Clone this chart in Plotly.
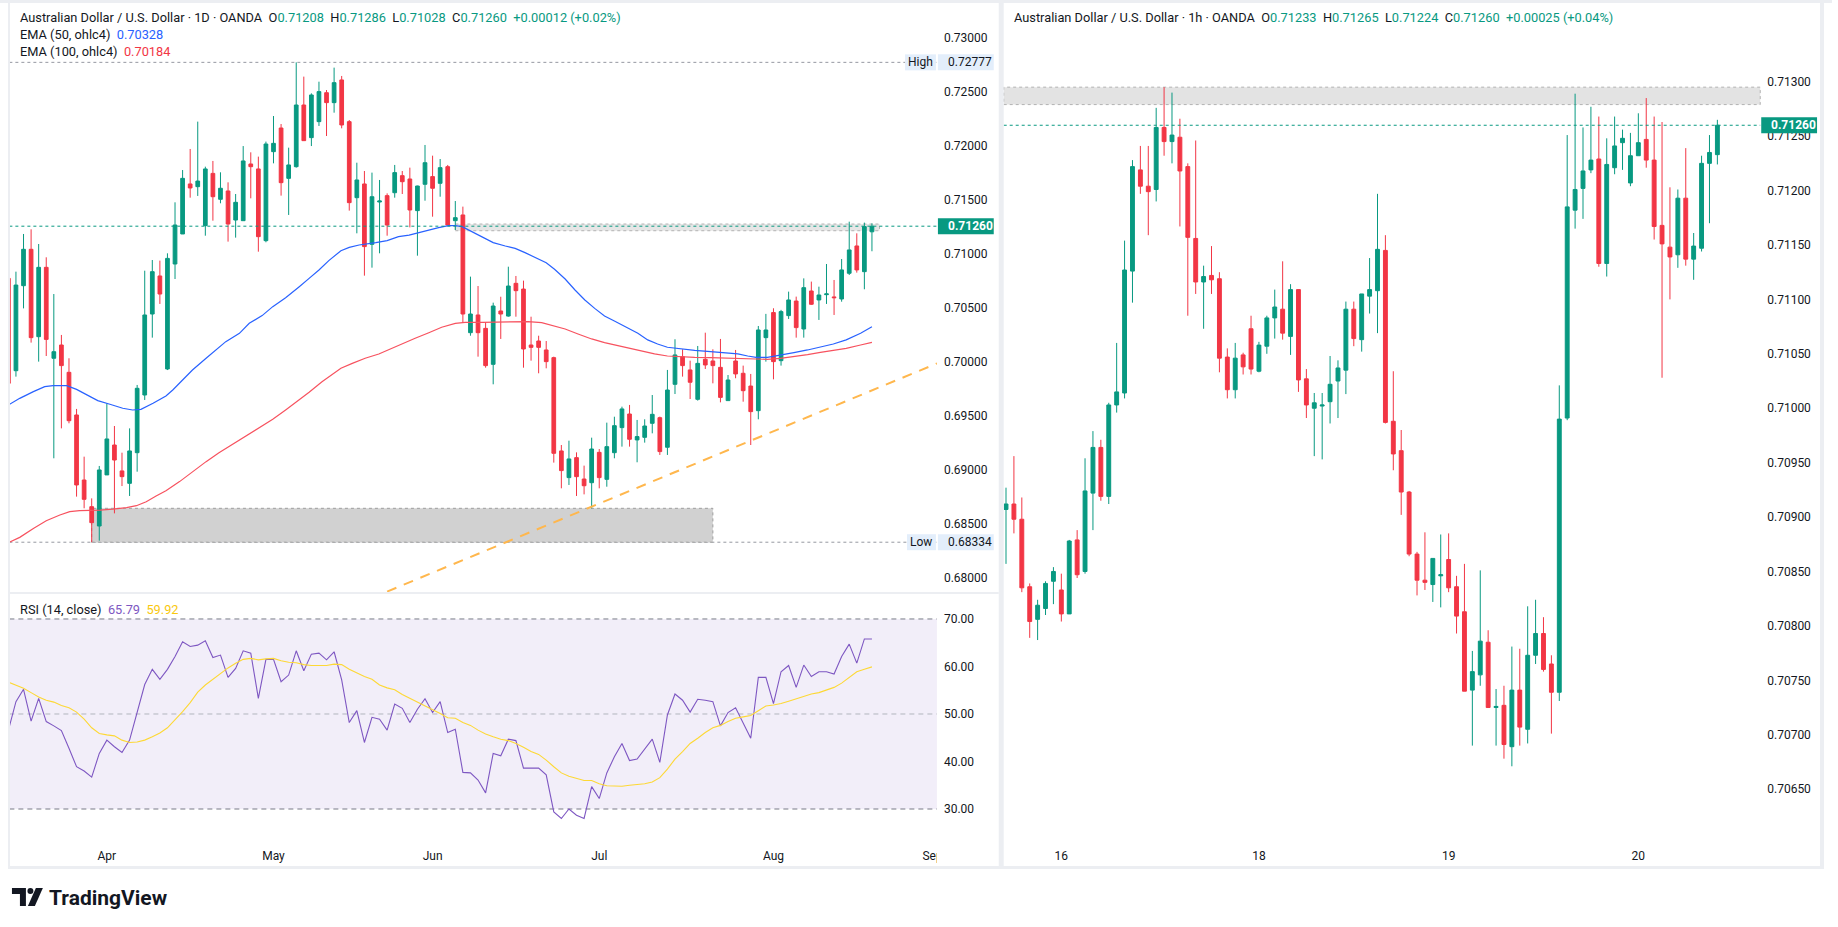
import plotly.graph_objects as go

W, H = 1838, 927
GREEN = "#089981"
RED = "#f23645"
INK = "#131722"
FONT = "Roboto"

# daily AUD/USD candles, left panel (index 0 = first, partly hidden bar)
d_open = [0.70777, 0.69922, 0.70709, 0.71046, 0.70237, 0.70879, 0.70037, 0.70160, 0.69907, 0.69512,
          0.68910, 0.68663, 0.68484, 0.68957, 0.69234, 0.68994, 0.68879, 0.69163, 0.69697, 0.70447,
          0.70799, 0.69938, 0.70910, 0.71188, 0.71651, 0.71626, 0.71265, 0.71749, 0.71509, 0.71586,
          0.71317, 0.71311, 0.71836, 0.71790, 0.71126, 0.71950, 0.72169, 0.71703, 0.71811, 0.72382,
          0.72080, 0.72228, 0.72496, 0.72404, 0.72614, 0.72228, 0.71524, 0.71651, 0.71092, 0.71484,
          0.71543, 0.71570, 0.71728, 0.71697, 0.71404, 0.71648, 0.71719, 0.71657, 0.71811, 0.71311,
          0.71364, 0.70274, 0.70438, 0.70314, 0.69981, 0.70475, 0.70428, 0.70731, 0.70678, 0.70160,
          0.70197, 0.70114, 0.70043, 0.69179, 0.68932, 0.69117, 0.68919, 0.68885, 0.69166, 0.68916,
          0.69163, 0.69395, 0.69521, 0.69281, 0.69305, 0.69435, 0.69487, 0.69213, 0.69796, 0.70052,
          0.69929, 0.69657, 0.70028, 0.70012, 0.69953, 0.69645, 0.70012, 0.69898, 0.69780, 0.69552,
          0.70228, 0.70460, 0.70015, 0.70432, 0.70567, 0.70308, 0.70660, 0.70577, 0.70626, 0.70605,
          0.70586, 0.70824, 0.71077, 0.70839, 0.71208]
d_high = [0.70790, 0.70839, 0.71188, 0.71231, 0.71095, 0.70972, 0.70632, 0.70253, 0.70037, 0.69568,
          0.69126, 0.68740, 0.69040, 0.69620, 0.69410, 0.69163, 0.69388, 0.69790, 0.70848, 0.70947,
          0.70941, 0.71009, 0.71481, 0.71780, 0.71975, 0.72228, 0.71811, 0.71864, 0.71759, 0.71666,
          0.71558, 0.72002, 0.71944, 0.71904, 0.72043, 0.72280, 0.72206, 0.71987, 0.72777, 0.72645,
          0.72490, 0.72598, 0.72521, 0.72728, 0.72651, 0.72243, 0.71848, 0.71771, 0.71756, 0.71688,
          0.71564, 0.71827, 0.71771, 0.71802, 0.71635, 0.72012, 0.71913, 0.71882, 0.71827, 0.71493,
          0.71441, 0.70793, 0.70706, 0.70370, 0.70552, 0.70607, 0.70885, 0.70799, 0.70756, 0.70422,
          0.70246, 0.70197, 0.70052, 0.69234, 0.69274, 0.69166, 0.69043, 0.69302, 0.69197, 0.69441,
          0.69496, 0.69589, 0.69605, 0.69466, 0.69472, 0.69697, 0.69497, 0.69929, 0.70213, 0.70120,
          0.70015, 0.70151, 0.70274, 0.70120, 0.70216, 0.69882, 0.70114, 0.69969, 0.69892, 0.70336,
          0.70448, 0.70500, 0.70485, 0.70654, 0.70608, 0.70777, 0.70747, 0.70700, 0.70910, 0.70762,
          0.70956, 0.71302, 0.71194, 0.71293, 0.71286]
d_low = [0.69790, 0.69867, 0.70499, 0.70182, 0.70006, 0.70058, 0.69111, 0.69388, 0.69435, 0.68756,
         0.68648, 0.68334, 0.68348, 0.68957, 0.68601, 0.68854, 0.68762, 0.68987, 0.69651, 0.70228,
         0.70540, 0.69928, 0.70771, 0.71188, 0.71524, 0.71540, 0.71172, 0.71311, 0.71472, 0.71117,
         0.71154, 0.71311, 0.71518, 0.71024, 0.71111, 0.71842, 0.71543, 0.71364, 0.71802, 0.72052,
         0.72002, 0.72188, 0.72095, 0.72311, 0.72166, 0.71404, 0.71194, 0.70802, 0.70876, 0.71009,
         0.71172, 0.71524, 0.71558, 0.71249, 0.70987, 0.71496, 0.71348, 0.71533, 0.71271, 0.71225,
         0.70370, 0.70246, 0.70052, 0.69950, 0.69796, 0.70216, 0.70422, 0.70422, 0.69950, 0.70015,
         0.69898, 0.69944, 0.69071, 0.68833, 0.68864, 0.68762, 0.68777, 0.68648, 0.68833, 0.68848,
         0.69111, 0.69219, 0.69219, 0.69074, 0.69256, 0.69342, 0.69142, 0.69142, 0.69706, 0.69867,
         0.69660, 0.69645, 0.69938, 0.69805, 0.69629, 0.69645, 0.69852, 0.69635, 0.69234, 0.69472,
         0.70006, 0.69842, 0.69969, 0.70401, 0.70228, 0.70228, 0.70531, 0.70392, 0.70540, 0.70438,
         0.70561, 0.70808, 0.70830, 0.70676, 0.71028]
d_close = [0.69805, 0.70715, 0.71046, 0.70228, 0.70879, 0.70212, 0.70098, 0.69969, 0.69459, 0.68864,
           0.68731, 0.68515, 0.69003, 0.69290, 0.69095, 0.68941, 0.69179, 0.69759, 0.70438, 0.70839,
           0.70632, 0.70962, 0.71271, 0.71703, 0.71614, 0.71678, 0.71790, 0.71533, 0.71611, 0.71280,
           0.71481, 0.71864, 0.71811, 0.71163, 0.72021, 0.72027, 0.71663, 0.71827, 0.72382, 0.72052,
           0.72475, 0.72506, 0.72404, 0.72589, 0.72197, 0.71478, 0.71688, 0.71071, 0.71533, 0.71493,
           0.71271, 0.71756, 0.71672, 0.71410, 0.71632, 0.71848, 0.71611, 0.71802, 0.71271, 0.71339,
           0.70447, 0.70447, 0.70274, 0.69969, 0.70521, 0.70447, 0.70706, 0.70663, 0.70123, 0.70138,
           0.70138, 0.70006, 0.69157, 0.68997, 0.69105, 0.68941, 0.68857, 0.69197, 0.68932, 0.69219,
           0.69413, 0.69568, 0.69287, 0.69312, 0.69410, 0.69518, 0.69173, 0.69743, 0.70068, 0.69969,
           0.69815, 0.69990, 0.69975, 0.69969, 0.69675, 0.69836, 0.69892, 0.69737, 0.69543, 0.70299,
           0.70299, 0.70006, 0.70469, 0.70577, 0.70321, 0.70691, 0.70537, 0.70623, 0.70633, 0.70598,
           0.70855, 0.71040, 0.70855, 0.71256, 0.71260]

month_pos = [13, 35, 56, 78, 101, 122]
month_txt = ["Apr", "May", "Jun", "Jul", "Aug", "Sep"]

ema50_x = [0, 1.5, 3.3, 4.8, 5.9, 7.7, 9, 10.3, 11.8, 13.4, 15.1, 16.4, 17.5, 19.1, 20.8, 21.7, 23,
           24.3, 26.1, 27.4, 28.7, 30.5, 31.8, 33.5, 34.9, 36.6, 37.5, 38.4, 39.7, 41, 42.3, 43.9, 45,
           46.3, 48.5, 50, 51.5, 52.9, 54.2, 55.5, 56.8, 58.1, 59, 59.9, 61.2, 62.5, 64, 65.6, 66.9,
           68.2, 69.5, 71, 72.1, 73.5, 74.8, 76.1, 77.4, 78.7, 80, 81.3, 83.1, 84.4, 85.7, 87, 88.4,
           90.6, 92.7, 94.9, 96.3, 97.6, 98.7, 100.2, 101.9, 103.7, 105.5, 107.2, 108.9, 110.6, 112.5, 114]
ema50_y = [0.69604, 0.69666, 0.69728, 0.69774, 0.69783, 0.69783, 0.69749, 0.69697, 0.69645, 0.69611,
           0.69574, 0.69558, 0.69564, 0.69620, 0.69688, 0.69743, 0.69836, 0.69928, 0.70037, 0.70114,
           0.70191, 0.70268, 0.70361, 0.70432, 0.70515, 0.70598, 0.70645, 0.70700, 0.70777, 0.70854,
           0.70941, 0.71033, 0.71064, 0.71086, 0.71108, 0.71126, 0.71163, 0.71178, 0.71200, 0.71225,
           0.71246, 0.71265, 0.71265, 0.71256, 0.71209, 0.71163, 0.71108, 0.71077, 0.71055, 0.71015,
           0.70972, 0.70922, 0.70861, 0.70771, 0.70669, 0.70577, 0.70499, 0.70428, 0.70382, 0.70336,
           0.70268, 0.70207, 0.70169, 0.70139, 0.70126, 0.70111, 0.70098, 0.70086, 0.70077, 0.70058,
           0.70046, 0.70046, 0.70064, 0.70089, 0.70114, 0.70139, 0.70169, 0.70207, 0.70268, 0.70328]

ema100_x = [0, 1.5, 3.3, 5, 6.8, 8.1, 9.4, 10.7, 12.1, 13.8, 15.6, 16.9, 18.2, 19.5, 20.8, 22.6, 24.3,
            26.1, 27.8, 29.6, 31.4, 33.1, 34.9, 36.6, 38.4, 39.7, 41.4, 43.9, 45.4, 47.1, 48.9, 50.6,
            52, 53.7, 55.5, 57.2, 59, 60.3, 62.5, 64.7, 66.9, 68.6, 70.4, 71.7, 73.5, 75.2, 77, 78.7,
            80.5, 83.1, 85.3, 87, 88.4, 90.6, 92.7, 94.9, 97.1, 98.7, 100.2, 101.9, 103.7, 105.5,
            107.2, 108.9, 110.6, 112.5, 114]
ema100_y = [0.68330, 0.68379, 0.68462, 0.68533, 0.68586, 0.68617, 0.68626, 0.68626, 0.68632, 0.68641,
            0.68654, 0.68672, 0.68709, 0.68762, 0.68811, 0.68895, 0.68987, 0.69080, 0.69163, 0.69243,
            0.69317, 0.69398, 0.69472, 0.69558, 0.69651, 0.69722, 0.69820, 0.69944, 0.69990, 0.70037,
            0.70077, 0.70129, 0.70175, 0.70222, 0.70274, 0.70324, 0.70360, 0.70370, 0.70370, 0.70370,
            0.70376, 0.70376, 0.70367, 0.70345, 0.70308, 0.70262, 0.70216, 0.70182, 0.70154, 0.70110,
            0.70077, 0.70058, 0.70052, 0.70046, 0.70043, 0.70037, 0.70030, 0.70027, 0.70027, 0.70037,
            0.70052, 0.70071, 0.70092, 0.70108, 0.70129, 0.70160, 0.70184]

# rising support line (orange dashes)
trend_x = [50, 122.6]
trend_y = [0.67877, 0.69990]

rsi = [46.6, 52.6, 55.2, 48.5, 53.3, 48.4, 47.5, 46.5, 42.8, 38.9,
       38.0, 36.7, 41.7, 44.5, 43.1, 41.9, 44.5, 50.6, 56.2, 59.4,
       57.3, 59.4, 62.1, 65.2, 64.2, 64.5, 65.4, 61.9, 62.4, 57.7,
       59.6, 63.3, 62.8, 53.3, 61.5, 61.5, 56.8, 58.2, 63.3, 59.1,
       62.6, 62.8, 61.4, 63.1, 57.2, 48.2, 50.7, 44.0, 49.3, 48.9,
       46.6, 52.1, 51.2, 48.2, 51.0, 53.2, 50.3, 52.6, 46.1, 46.8,
       37.7, 37.6, 36.1, 33.4, 41.7, 41.2, 44.7, 44.4, 38.6, 38.6,
       38.6, 37.2, 29.4, 28.0, 30.0, 28.7, 28.0, 34.7, 32.2, 37.6,
       41.0, 43.8, 40.2, 40.5, 42.6, 44.7, 39.8, 49.8, 54.2, 52.9,
       50.4, 53.1, 52.9, 52.6, 47.5, 50.3, 51.3, 48.0, 44.9, 57.7,
       57.7, 52.2, 58.9, 60.2, 55.6, 60.3, 57.9, 58.9, 58.9, 58.4,
       62.1, 64.7, 60.7, 65.8, 65.79]
rsi_ma = [56.7, 56.0, 55.4, 54.5, 53.6, 52.9, 52.5, 51.8, 51.3, 50.4,
          48.9, 47.1, 45.9, 45.6, 45.4, 44.5, 44.0, 44.1, 44.5, 45.2,
          46.0, 47.1, 48.7, 50.5, 52.4, 54.6, 56.1, 57.3, 58.6, 59.7,
          60.7, 61.5, 61.7, 61.4, 61.6, 61.7, 61.2, 60.9, 60.8, 60.4,
          60.2, 60.2, 60.2, 60.5, 60.4, 59.4, 58.6, 57.9, 57.3, 56.1,
          55.5, 55.1, 54.1, 53.3, 52.6, 51.8, 51.0, 50.1, 49.2, 49.1,
          48.2, 47.6, 46.6, 45.8, 45.2, 44.7, 44.4, 43.8, 43.0, 42.1,
          41.5, 40.3, 38.9, 37.6, 36.9, 36.5, 36.0, 36.0, 35.3, 34.9,
          34.8, 34.8, 35.0, 35.1, 35.3, 35.7, 36.6, 38.4, 40.5, 42.1,
          43.8, 44.9, 46.1, 47.1, 47.6, 48.4, 49.1, 49.4, 49.7, 50.7,
          51.7, 51.9, 52.2, 52.7, 53.2, 53.6, 54.2, 54.5, 55.0, 55.6,
          56.5, 57.7, 58.9, 59.4, 59.92]

# hourly AUD/USD candles, right panel
h_open = [0.70907, 0.70912, 0.70898, 0.70836, 0.70806, 0.70816, 0.70841, 0.70833, 0.70811, 0.70879,
          0.70850, 0.70922, 0.70964, 0.70919, 0.71003, 0.71014, 0.71126, 0.71219, 0.71204, 0.71201,
          0.71258, 0.71245, 0.71249, 0.71222, 0.71156, 0.71116, 0.71122, 0.71119, 0.71047, 0.71017,
          0.71049, 0.71073, 0.71034, 0.71057, 0.71083, 0.71091, 0.71066, 0.71109, 0.71027, 0.71000,
          0.71002, 0.71006, 0.71025, 0.71035, 0.71091, 0.71063, 0.71103, 0.71108, 0.71145, 0.70988,
          0.70961, 0.70923, 0.70866, 0.70842, 0.70838, 0.70846, 0.70861, 0.70836, 0.70813, 0.70741,
          0.70755, 0.70785, 0.70725, 0.70727, 0.70689, 0.70741, 0.70705, 0.70773, 0.70793, 0.70765,
          0.70739, 0.70991, 0.71182, 0.71202, 0.71219, 0.71229, 0.71133, 0.71221, 0.71244, 0.71207,
          0.71232, 0.71247, 0.71228, 0.71168, 0.71148, 0.71141, 0.71193, 0.71137, 0.71147, 0.71225,
          0.71233]
h_high = [0.70927, 0.70956, 0.70918, 0.70839, 0.70824, 0.70841, 0.70854, 0.70848, 0.70879, 0.70888,
          0.70954, 0.70979, 0.70971, 0.71005, 0.71060, 0.71154, 0.71228, 0.71241, 0.71241, 0.71276,
          0.71295, 0.71290, 0.71266, 0.71225, 0.71246, 0.71131, 0.71149, 0.71125, 0.71055, 0.71060,
          0.71051, 0.71085, 0.71061, 0.71085, 0.71109, 0.71135, 0.71114, 0.71109, 0.71036, 0.71014,
          0.71014, 0.71048, 0.71044, 0.71098, 0.71098, 0.71105, 0.71138, 0.71197, 0.71159, 0.71034,
          0.70980, 0.70924, 0.70868, 0.70886, 0.70862, 0.70884, 0.70885, 0.70846, 0.70857, 0.70777,
          0.70851, 0.70796, 0.70742, 0.70745, 0.70781, 0.70779, 0.70818, 0.70824, 0.70808, 0.70773,
          0.71021, 0.71251, 0.71289, 0.71258, 0.71277, 0.71268, 0.71248, 0.71268, 0.71256, 0.71253,
          0.71271, 0.71285, 0.71268, 0.71263, 0.71203, 0.71201, 0.71239, 0.71161, 0.71232, 0.71251,
          0.71265]
h_low = [0.70857, 0.70885, 0.70831, 0.70789, 0.70787, 0.70810, 0.70820, 0.70804, 0.70811, 0.70844,
         0.70848, 0.70888, 0.70915, 0.70912, 0.70996, 0.71009, 0.71097, 0.71197, 0.71159, 0.71190,
         0.71232, 0.71225, 0.71167, 0.71085, 0.71105, 0.71073, 0.71105, 0.71033, 0.71009, 0.71009,
         0.71031, 0.71031, 0.71033, 0.71050, 0.71064, 0.71063, 0.71049, 0.71015, 0.70991, 0.70956,
         0.70953, 0.70986, 0.70991, 0.71013, 0.71057, 0.71052, 0.71087, 0.71069, 0.70986, 0.70943,
         0.70902, 0.70864, 0.70828, 0.70833, 0.70822, 0.70817, 0.70831, 0.70793, 0.70740, 0.70690,
         0.70745, 0.70725, 0.70690, 0.70678, 0.70671, 0.70690, 0.70692, 0.70765, 0.70758, 0.70701,
         0.70731, 0.70989, 0.71165, 0.71174, 0.71216, 0.71130, 0.71121, 0.71215, 0.71219, 0.71204,
         0.71232, 0.71221, 0.71155, 0.71028, 0.71100, 0.71129, 0.71131, 0.71118, 0.71144, 0.71170,
         0.71224]
h_close = [0.70912, 0.70898, 0.70835, 0.70804, 0.70819, 0.70839, 0.70850, 0.70811, 0.70878, 0.70847,
           0.70924, 0.70964, 0.70919, 0.71003, 0.71015, 0.71127, 0.71222, 0.71204, 0.71199, 0.71258,
           0.71245, 0.71251, 0.71218, 0.71157, 0.71116, 0.71121, 0.71118, 0.71046, 0.71017, 0.71046,
           0.71038, 0.71036, 0.71058, 0.71083, 0.71093, 0.71069, 0.71109, 0.71026, 0.71003, 0.71005,
           0.71003, 0.71022, 0.71037, 0.71091, 0.71064, 0.71105, 0.71109, 0.71146, 0.70987, 0.70958,
           0.70923, 0.70866, 0.70842, 0.70840, 0.70862, 0.70847, 0.70835, 0.70809, 0.70740, 0.70758,
           0.70786, 0.70725, 0.70726, 0.70691, 0.70741, 0.70707, 0.70773, 0.70793, 0.70760, 0.70739,
           0.70990, 0.71185, 0.71201, 0.71218, 0.71228, 0.71133, 0.71224, 0.71241, 0.71248, 0.71232,
           0.71244, 0.71228, 0.71167, 0.71151, 0.71139, 0.71193, 0.71137, 0.71149, 0.71225, 0.71235,
           0.71260]

day_pos = [7, 32, 56, 80]
day_txt = ["16", "18", "19", "20"]

last_price = 0.71260
high_price, low_price = 0.72777, 0.68334


def X(p):
    return p / W


def Y(p):
    return 1 - p / H


# candle spacing in pixels, used to set the visible index range
D_FIRST, D_STEP = 8.4, 7.6
H_FIRST, H_STEP = 1009.3, 7.93
LX0, LX1 = 9.4, 940
RX0, RX1 = 1007, 1766
left_range = [(LX0 - D_FIRST) / D_STEP, (LX1 - D_FIRST) / D_STEP]
right_range = [(RX0 - H_FIRST) / H_STEP, (RX1 - H_FIRST) / H_STEP]

fig = go.Figure()

candle_style = dict(
    increasing=dict(line=dict(color=GREEN, width=1), fillcolor=GREEN),
    decreasing=dict(line=dict(color=RED, width=1), fillcolor=RED),
    whiskerwidth=0, hoverinfo="skip", showlegend=False,
)
fig.add_trace(go.Candlestick(x=list(range(len(d_open))), open=d_open, high=d_high,
                             low=d_low, close=d_close, xaxis="x", yaxis="y", **candle_style))
fig.add_trace(go.Scatter(x=ema50_x, y=ema50_y, mode="lines", line=dict(color="#2962ff", width=1.2),
                         xaxis="x", yaxis="y", hoverinfo="skip", showlegend=False))
fig.add_trace(go.Scatter(x=ema100_x, y=ema100_y, mode="lines", line=dict(color="#f7525f", width=1.2),
                         xaxis="x", yaxis="y", hoverinfo="skip", showlegend=False))
fig.add_trace(go.Scatter(x=trend_x, y=trend_y, mode="lines",
                         line=dict(color="#ffb74d", width=2, dash="10px,8px"),
                         xaxis="x", yaxis="y", hoverinfo="skip", showlegend=False))

fig.add_trace(go.Scatter(x=list(range(len(rsi))), y=rsi, mode="lines",
                         line=dict(color="#7e57c2", width=1.1),
                         xaxis="x2", yaxis="y2", hoverinfo="skip", showlegend=False))
fig.add_trace(go.Scatter(x=list(range(len(rsi_ma))), y=rsi_ma, mode="lines",
                         line=dict(color="#fdd835", width=1.1),
                         xaxis="x2", yaxis="y2", hoverinfo="skip", showlegend=False))

fig.add_trace(go.Candlestick(x=list(range(len(h_open))), open=h_open, high=h_high,
                             low=h_low, close=h_close, xaxis="x3", yaxis="y3", **candle_style))

axis_font = dict(family=FONT, size=12, color=INK)
base_axis = dict(showgrid=False, zeroline=False, showline=False, fixedrange=True,
                 tickfont=axis_font)

fig.update_layout(
    width=W, height=H, margin=dict(l=0, r=0, t=0, b=0),
    paper_bgcolor="white", plot_bgcolor="rgba(0,0,0,0)",
    hovermode=False, showlegend=False, font=dict(family=FONT, color=INK),
    xaxis=dict(base_axis, domain=[X(LX0), X(LX1)], range=left_range, showticklabels=False,
               anchor="y", rangeslider=dict(visible=False)),
    yaxis=dict(base_axis, domain=[Y(592), Y(5)], range=[0.67873, 0.73308], side="right",
               anchor="x", tickvals=[0.68 + 0.005 * i for i in range(11)], tickformat=".5f",
               ticklabelstandoff=6),
    xaxis2=dict(base_axis, domain=[X(LX0), X(LX1)], range=left_range, anchor="y2",
                tickvals=month_pos, ticktext=month_txt, ticklabelstandoff=19),
    yaxis2=dict(base_axis, domain=[Y(828), Y(593)], range=[26.0, 75.47], side="right",
                anchor="x2", tickvals=[30, 40, 50, 60, 70], tickformat=".2f",
                ticklabelstandoff=6),
    xaxis3=dict(base_axis, domain=[X(RX0), X(RX1)], range=right_range, anchor="y3",
                tickvals=day_pos, ticktext=day_txt, ticklabelstandoff=19,
                rangeslider=dict(visible=False)),
    yaxis3=dict(base_axis, domain=[Y(828), Y(5)], range=[0.706143, 0.713705], side="right",
                anchor="x3", tickvals=[0.7065 + 0.0005 * i for i in range(14)],
                tickformat=".5f", ticklabelstandoff=6),
)

shapes = []
# zones
shapes.append(dict(type="rect", xref="x", yref="y", x0=11, x1=93, y0=low_price, y1=0.68648,
                   fillcolor="#d1d1d1", line=dict(color="#9e9e9e", width=1, dash="dot"),
                   layer="below"))
shapes.append(dict(type="rect", xref="x", yref="y", x0=59, x1=115, y0=0.71218, y1=0.71280,
                   fillcolor="#e6e6e6", line=dict(color="#b2b2b2", width=1, dash="dot"),
                   layer="below"))
shapes.append(dict(type="rect", xref="x3 domain", yref="y3", x0=0, x1=1, y0=0.71279, y1=0.71295,
                   fillcolor="#e3e3e3", line=dict(color="#b2b2b2", width=1, dash="dot"),
                   layer="below"))
# high / low and last price lines
for yv in (high_price, low_price):
    shapes.append(dict(type="line", xref="x domain", yref="y", x0=0, x1=1, y0=yv, y1=yv,
                       line=dict(color="#9598a1", width=1, dash="dot"), layer="below"))
shapes.append(dict(type="line", xref="x domain", yref="y", x0=0, x1=1, y0=last_price,
                   y1=last_price, line=dict(color=GREEN, width=1, dash="dot"), layer="above"))
shapes.append(dict(type="line", xref="x3 domain", yref="y3", x0=0, x1=1, y0=last_price,
                   y1=last_price, line=dict(color=GREEN, width=1, dash="dot"), layer="above"))
# RSI band
shapes.append(dict(type="rect", xref="x2 domain", yref="y2", x0=0, x1=1, y0=30, y1=70,
                   fillcolor="rgba(126,87,194,0.1)", line_width=0, layer="below"))
for yv, col in ((70, "#787b86"), (50, "#b2b5be"), (30, "#787b86")):
    shapes.append(dict(type="line", xref="x2 domain", yref="y2", x0=0, x1=1, y0=yv, y1=yv,
                       line=dict(color=col, width=1, dash="5px,4px"), layer="below"))

# price-scale strip hides the end of the last month label, as in the original
shapes.append(dict(type="rect", xref="paper", yref="paper", x0=X(940), x1=X(1001),
                   y0=Y(865), y1=Y(836), fillcolor="white", line_width=0, layer="above"))

# frame bands
BAND = "#eceef2"
for x0, y0, x1, y1 in ((0, 0, W, 3), (8, 0, 10, 869), (1002, 0, 1007, 869),
                       (1826, 0, 1830, 869), (8, 866, 1830, 869), (10, 592, 1002, 594)):
    shapes.append(dict(type="rect", xref="paper", yref="paper", x0=X(x0), x1=X(x1),
                       y0=Y(y1), y1=Y(y0), fillcolor=BAND, line_width=0, layer="above"))

annotations = []


def tag(yref, yv, x0, x1, text, fill, color, tx=None, anchor="left"):
    shapes.append(dict(type="rect", xref="paper", yref=yref, ysizemode="pixel", yanchor=yv,
                       y0=-8, y1=8, x0=X(x0), x1=X(x1), fillcolor=fill, line_width=0,
                       layer="above"))
    annotations.append(dict(xref="paper", yref=yref, x=X(tx if tx is not None else x0 + 8), y=yv,
                            text=text, showarrow=False, xanchor=anchor, yanchor="middle",
                            font=dict(family=FONT, size=12, color=color)))


BLUE_TAG = "#e3eefb"
tag("y", high_price, 908, 939, "High", BLUE_TAG, INK, tx=923.5, anchor="center")
tag("y", high_price, 941, 997, f"{high_price:.5f}", BLUE_TAG, INK)
tag("y", low_price, 910, 939, "Low", BLUE_TAG, INK, tx=924.5, anchor="center")
tag("y", low_price, 941, 997, f"{low_price:.5f}", BLUE_TAG, INK)
tag("y", last_price, 941, 997, f"<b>{last_price:.5f}</b>", GREEN, "white")
tag("y3", last_price, 1767, 1823, f"<b>{last_price:.5f}</b>", GREEN, "white")


def teal(v):
    return f"<span style='color:{GREEN}'>{v}</span>"


def header(title, o, h, l, c, chg):
    sp = "&nbsp;&nbsp;"
    return (f"{title}{sp}O{teal(f'{o:.5f}')}{sp}H{teal(f'{h:.5f}')}{sp}"
            f"L{teal(f'{l:.5f}')}{sp}C{teal(f'{c:.5f}')}{sp}{teal(chg)}")


legend_rows = [
    (18, 17.3, header("Australian Dollar / U.S. Dollar · 1D · OANDA", d_open[-1], d_high[-1],
                      d_low[-1], d_close[-1], "+0.00012 (+0.02%)")),
    (18, 34.3, "EMA (50, ohlc4)&nbsp;&nbsp;<span style='color:#2962ff'>0.70328</span>"),
    (18, 51.7, "EMA (100, ohlc4)&nbsp;&nbsp;<span style='color:#f23645'>0.70184</span>"),
    (18, 609, "RSI (14, close)&nbsp;&nbsp;<span style='color:#7e57c2'>65.79</span>"
              "&nbsp;&nbsp;<span style='color:#f9c80e'>59.92</span>"),
    (1015, 17.3, header("Australian Dollar / U.S. Dollar · 1h · OANDA", h_open[-1], h_high[-1],
                        h_low[-1], h_close[-1], "+0.00025 (+0.04%)")),
]
for lx, ly, txt in legend_rows:
    annotations.append(dict(xref="paper", yref="paper", x=X(lx), y=Y(ly), text=txt,
                            showarrow=False, xanchor="left", yanchor="middle",
                            font=dict(family=FONT, size=12.8, color=INK)))

# TradingView logo
shapes.append(dict(type="path", xref="paper", yref="paper", fillcolor=INK, line_width=0,
                   path=f"M {X(12)},{Y(888)} L {X(26)},{Y(888)} L {X(26)},{Y(906)} "
                        f"L {X(20)},{Y(906)} L {X(20)},{Y(894)} L {X(12)},{Y(894)} Z"))
shapes.append(dict(type="circle", xref="paper", yref="paper", fillcolor=INK, line_width=0,
                   x0=X(27.5), x1=X(33.5), y0=Y(894), y1=Y(888)))
shapes.append(dict(type="path", xref="paper", yref="paper", fillcolor=INK, line_width=0,
                   path=f"M {X(36)},{Y(888)} L {X(43)},{Y(888)} L {X(35)},{Y(906)} "
                        f"L {X(28)},{Y(906)} Z"))
annotations.append(dict(xref="paper", yref="paper", x=X(47), y=Y(898), text="TradingView",
                        showarrow=False, xanchor="left", yanchor="middle",
                        font=dict(family=FONT, size=21, color=INK, weight=700)))

fig.update_layout(shapes=shapes, annotations=annotations)

fig.write_html("out.html", config={"displayModeBar": False},
               post_script="document.body.style.margin='0';document.body.style.overflow='hidden';")
